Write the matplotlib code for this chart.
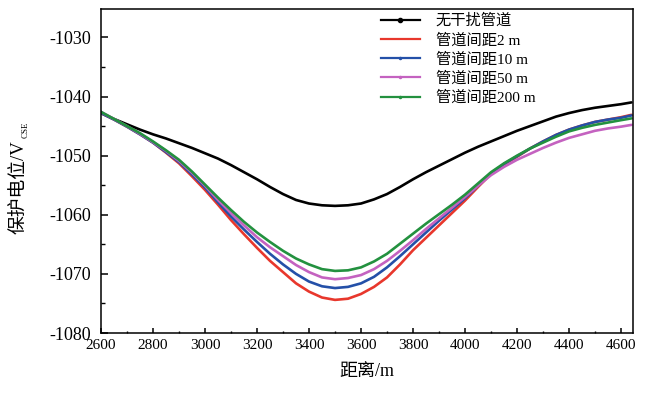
import numpy as np
import matplotlib
matplotlib.use('Agg')
import matplotlib.pyplot as plt
from matplotlib.lines import Line2D
from matplotlib.ticker import MultipleLocator

# Data ------------------------------------------
distance = [2600, 2650, 2700, 2750, 2800, 2850, 2900, 2950, 3000, 3050, 3100, 3150, 3200, 3250,
            3300, 3350, 3400, 3450, 3500, 3550, 3600, 3650, 3700, 3750, 3800, 3850, 3900, 3950,
            4000, 4050, 4100, 4150, 4200, 4250, 4300, 4350, 4400, 4450, 4500, 4550, 4600, 4640]  # m
no_interference = [-1042.8, -1043.8, -1044.7, -1045.6, -1046.4, -1047.1, -1047.9, -1048.7, -1049.6, -1050.5,
                   -1051.6, -1052.8, -1054.0, -1055.3, -1056.5, -1057.5, -1058.1, -1058.4, -1058.5, -1058.4,
                   -1058.1, -1057.4, -1056.5, -1055.3, -1054.0, -1052.8, -1051.7, -1050.6, -1049.5, -1048.5,
                   -1047.6, -1046.7, -1045.8, -1045.0, -1044.2, -1043.4, -1042.8, -1042.3, -1041.9, -1041.6,
                   -1041.3, -1041.0]
spacing_2m = [-1042.8, -1043.9, -1045.1, -1046.4, -1047.8, -1049.5, -1051.3, -1053.5, -1055.8, -1058.3,
              -1060.9, -1063.3, -1065.6, -1067.8, -1069.7, -1071.6, -1073.0, -1074.0, -1074.4, -1074.2,
              -1073.4, -1072.2, -1070.6, -1068.4, -1066.0, -1063.9, -1061.8, -1059.7, -1057.6, -1055.3,
              -1053.1, -1051.5, -1050.2, -1048.8, -1047.6, -1046.5, -1045.6, -1044.9, -1044.3, -1043.9,
              -1043.5, -1043.1]
spacing_10m = [-1042.8, -1043.9, -1045.1, -1046.4, -1047.8, -1049.4, -1051.1, -1053.2, -1055.4, -1057.9,
               -1060.3, -1062.5, -1064.6, -1066.6, -1068.4, -1070.0, -1071.3, -1072.1, -1072.4, -1072.2,
               -1071.6, -1070.5, -1068.9, -1067.0, -1065.0, -1063.0, -1061.0, -1059.1, -1057.2, -1055.1,
               -1053.0, -1051.4, -1050.1, -1048.8, -1047.6, -1046.5, -1045.6, -1044.9, -1044.3, -1043.9,
               -1043.6, -1043.2]
spacing_50m = [-1042.6, -1043.8, -1045.0, -1046.3, -1047.7, -1049.2, -1050.9, -1052.9, -1055.1, -1057.5,
               -1059.7, -1061.8, -1063.8, -1065.5, -1067.0, -1068.5, -1069.7, -1070.6, -1070.9, -1070.7,
               -1070.2, -1069.2, -1067.8, -1066.1, -1064.3, -1062.4, -1060.6, -1058.8, -1057.0, -1055.1,
               -1053.3, -1051.9, -1050.7, -1049.7, -1048.7, -1047.8, -1047.0, -1046.4, -1045.8, -1045.4,
               -1045.1, -1044.8]
spacing_200m = [-1042.6, -1043.8, -1045.0, -1046.2, -1047.6, -1049.1, -1050.7, -1052.7, -1054.9, -1057.1,
                -1059.2, -1061.2, -1063.0, -1064.6, -1066.1, -1067.4, -1068.4, -1069.2, -1069.5, -1069.4,
                -1068.9, -1067.9, -1066.6, -1064.9, -1063.2, -1061.5, -1059.9, -1058.3, -1056.6, -1054.7,
                -1052.8, -1051.3, -1050.0, -1048.8, -1047.8, -1046.8, -1045.9, -1045.3, -1044.8, -1044.4,
                -1044.0, -1043.7]
labels = ['无干扰管道', '管道间距2 m', '管道间距10 m', '管道间距50 m', '管道间距200 m']
# -----------------------------------------------

plt.rcParams['font.family'] = ['Liberation Serif', 'Noto Sans CJK SC']
plt.rcParams['axes.unicode_minus'] = False

fig = plt.figure(figsize=(6.51, 3.93), dpi=100)
ax = fig.add_axes([101/651, 1-333/393, (633-101)/651, (333-9)/393])

series = [no_interference, spacing_2m, spacing_10m, spacing_50m, spacing_200m]
colors = ['#000000', '#e8372c', '#2450a8', '#c462c0', '#23913f']
markers = ['.', '', '.', '.', '.']
msizes = [6, 0, 3, 3, 3]
handles = []
for k in range(len(series)):
    ax.plot(distance, series[k], color=colors[k], lw=1.9, solid_capstyle='round')
    handles.append(Line2D([], [], color=colors[k], lw=1.6, marker=markers[k], ms=msizes[k]))

ax.legend(handles, labels, loc='upper left', bbox_to_anchor=(0.514, 1.005), frameon=False, fontsize=11,
          handlelength=2.6, handletextpad=1.0, labelspacing=0.32, borderaxespad=0, numpoints=1)

ax.set_xlim(2600, 4646)
ax.set_ylim(-1080, -1025.2)
ax.xaxis.set_major_locator(MultipleLocator(200))
ax.xaxis.set_minor_locator(MultipleLocator(100))
ax.yaxis.set_major_locator(MultipleLocator(10))
ax.yaxis.set_minor_locator(MultipleLocator(5))
ax.tick_params(axis='x', which='major', direction='in', length=3.6, width=1.1, labelsize=11, pad=4)
ax.tick_params(axis='x', which='minor', direction='in', length=1.8, width=1.0)
ax.tick_params(axis='y', which='major', direction='in', length=5, width=1.1, labelsize=13, pad=7)
ax.tick_params(axis='y', which='minor', direction='in', length=3, width=1.0)
for s in ax.spines.values():
    s.set_linewidth(1.1)

ax.set_xlabel('距离/m', fontsize=13, labelpad=8)
fig.text(20/651, 1-140/393, '保护电位/V', rotation=90, ha='center', va='top', fontsize=13.5)
fig.text(25.5/651, 1-122/393, 'CSE', rotation=90, ha='center', va='top', fontsize=6.5)

fig.savefig('out.png', dpi=100)
